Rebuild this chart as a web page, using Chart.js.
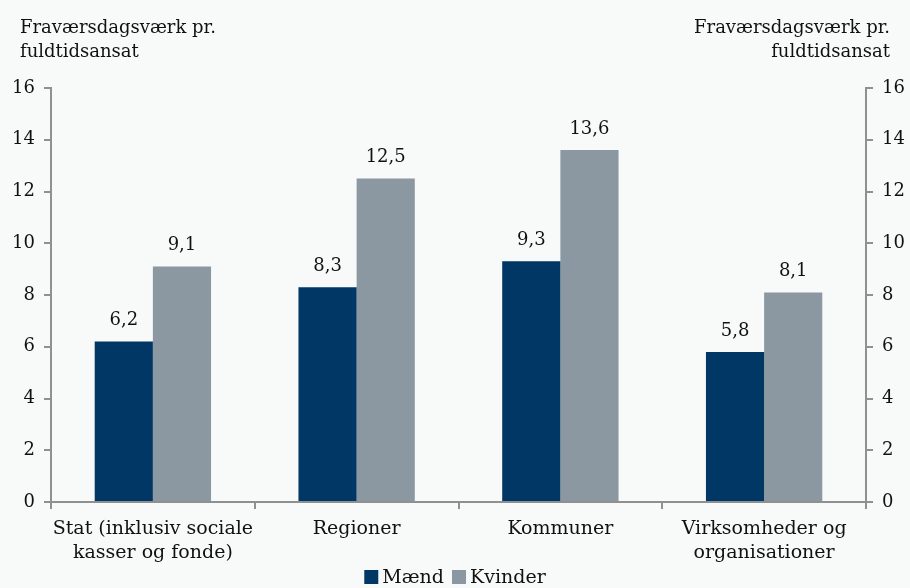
<!DOCTYPE html>
<html>
<head>
<meta charset="utf-8">
<script src="https://cdn.jsdelivr.net/npm/chart.js@4"></script>
<style>
  html, body { margin: 0; padding: 0; background: #f8f9f9; }
  #wrap { width: 910px; height: 588px; position: relative; }
</style>
</head>
<body>
<div id="wrap"><canvas id="chart" width="910" height="588"></canvas></div>
<script>
const categories = [
  ["Stat (inklusiv sociale", "kasser og fonde)"],
  ["Regioner"],
  ["Kommuner"],
  ["Virksomheder og", "organisationer"]
];
const seriesNames = ["Mænd", "Kvinder"];
const maendValues = [6.2, 8.3, 9.3, 5.8];
const kvinderValues = [9.1, 12.5, 13.6, 8.1];
const yTicks = [0, 2, 4, 6, 8, 10, 12, 14, 16];
const axisTitle = ["Fraværsdagsværk pr.", "fuldtidsansat"];

const FONT = "'DejaVu Serif', serif";
const AXIS_GRAY = "#8f9090";
const COLORS = ["#003764", "#8c98a1"];

const fmt = v => String(v).replace(".", ",");

const barLabels = {
  id: "barLabels",
  afterDatasetsDraw(chart) {
    const ctx = chart.ctx;
    ctx.save();
    ctx.fillStyle = "#111";
    ctx.font = `18px ${FONT}`;
    ctx.textAlign = "center";
    ctx.textBaseline = "bottom";
    chart.data.datasets.forEach((ds, i) => {
      chart.getDatasetMeta(i).data.forEach((bar, j) => {
        ctx.fillText(fmt(ds.data[j]), bar.x, bar.y - 12);
      });
    });
    ctx.restore();
  }
};

const axisTitles = {
  id: "axisTitles",
  afterDraw(chart) {
    const ctx = chart.ctx;
    ctx.save();
    ctx.fillStyle = "#111";
    ctx.font = `18px ${FONT}`;
    ctx.textBaseline = "alphabetic";
    ctx.textAlign = "left";
    ctx.fillText(axisTitle[0], 20, 33);
    ctx.fillText(axisTitle[1], 20, 57);
    ctx.textAlign = "right";
    ctx.fillText(axisTitle[0], 890, 33);
    ctx.fillText(axisTitle[1], 890, 57);
    ctx.restore();
  }
};

// legend drawn by hand so the boxes sit tight against the text like the original
const bottomLegend = {
  id: "bottomLegend",
  afterDraw(chart) {
    const ctx = chart.ctx;
    ctx.save();
    ctx.font = `19px ${FONT}`;
    ctx.textBaseline = "middle";
    ctx.textAlign = "left";
    const box = 14, gap = 4, between = 8, cy = 577;
    const widths = seriesNames.map(n => ctx.measureText(n).width);
    const total = widths.reduce((a, w) => a + box + gap + w, 0) + between;
    let x = 455 - total / 2;
    seriesNames.forEach((name, i) => {
      ctx.fillStyle = COLORS[i];
      ctx.fillRect(x, cy - box / 2, box, box);
      ctx.fillStyle = "#111";
      ctx.fillText(name, x + box + gap, cy + 1);
      x += box + gap + widths[i] + between;
    });
    ctx.restore();
  }
};

function yAxis(position, width) {
  return {
    position: position,
    min: 0,
    max: 16,
    afterBuildTicks: axis => { axis.ticks = yTicks.map(v => ({ value: v })); },
    afterFit: axis => { axis.width = width; },
    grid: { drawOnChartArea: false, drawTicks: true, tickLength: 7, color: AXIS_GRAY, lineWidth: 2 },
    border: { display: true, color: AXIS_GRAY, width: 2 },
    ticks: { color: "#111", font: { family: FONT, size: 18 }, padding: 9 }
  };
}

new Chart(document.getElementById("chart"), {
  type: "bar",
  data: {
    labels: categories,
    datasets: [
      { label: seriesNames[0], data: maendValues, backgroundColor: COLORS[0] },
      { label: seriesNames[1], data: kvinderValues, backgroundColor: COLORS[1] }
    ]
  },
  options: {
    responsive: false,
    animation: false,
    devicePixelRatio: 1,
    layout: { padding: { top: 88, bottom: 0, left: 0, right: 0 } },
    datasets: { bar: { categoryPercentage: 0.571, barPercentage: 1.0 } },
    scales: {
      x: {
        afterFit: axis => { axis.height = 86; },
        grid: { offset: true, drawOnChartArea: false, drawTicks: true, tickLength: 7, color: AXIS_GRAY, lineWidth: 2 },
        border: { display: true, color: AXIS_GRAY, width: 2 },
        ticks: { color: "#111", font: { family: FONT, size: 19, lineHeight: 1.26 }, padding: 8, maxRotation: 0 }
      },
      y: yAxis("left", 51),
      y2: yAxis("right", 44)
    },
    plugins: {
      legend: { display: false },
      tooltip: { enabled: false }
    }
  },
  plugins: [barLabels, axisTitles, bottomLegend]
});
</script>
</body>
</html>
